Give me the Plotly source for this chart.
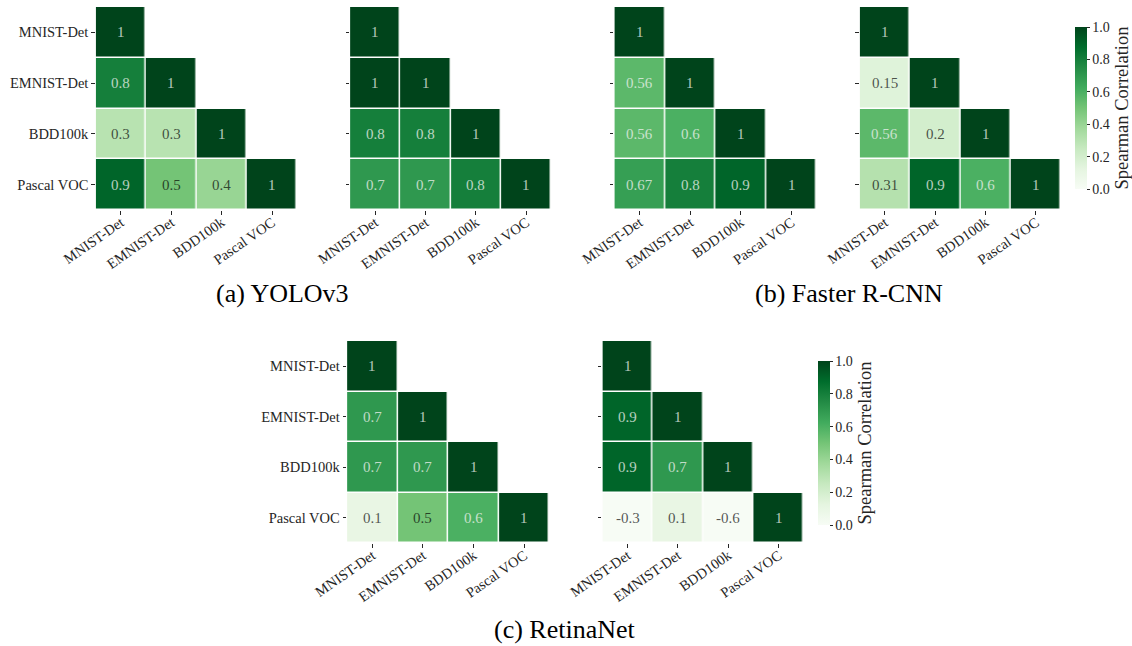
import plotly.graph_objects as go

# Dataset names shared by every matrix (rows and columns)
datasets = ["MNIST-Det", "EMNIST-Det", "BDD100k", "Pascal VOC"]

# Lower-triangular Spearman correlation matrices (row i holds columns 0..i)
yolo_a = [[1], [0.8, 1], [0.3, 0.3, 1], [0.9, 0.5, 0.4, 1]]
yolo_b = [[1], [1, 1], [0.8, 0.8, 1], [0.7, 0.7, 0.8, 1]]
frcnn_a = [[1], [0.56, 1], [0.56, 0.6, 1], [0.67, 0.8, 0.9, 1]]
frcnn_b = [[1], [0.15, 1], [0.56, 0.2, 1], [0.31, 0.9, 0.6, 1]]
retina_a = [[1], [0.7, 1], [0.7, 0.7, 1], [0.1, 0.5, 0.6, 1]]
retina_b = [[1], [0.9, 1], [0.9, 0.7, 1], [-0.3, 0.1, -0.6, 1]]

captions = ["(a) YOLOv3", "(b) Faster R-CNN", "(c) RetinaNet"]
colorbar_title = "Spearman Correlation"

W, H = 1132, 646
FONT = "Liberation Serif"
INK = "#262626"

greens = ["#f7fcf5", "#e5f5e0", "#c7e9c0", "#a1d99b", "#74c476",
          "#41ab5d", "#238b45", "#006d2c", "#00441b"]
colorscale = [[i / 8, c] for i, c in enumerate(greens)]


def hex_rgb(h):
    h = h.lstrip("#")
    return [int(h[k:k + 2], 16) / 255 for k in (0, 2, 4)]


def cmap(v):
    v = min(max(v, 0.0), 1.0)
    pos = v * 8
    i = min(int(pos), 7)
    t = pos - i
    a, b = hex_rgb(greens[i]), hex_rgb(greens[i + 1])
    return [a[k] + (b[k] - a[k]) * t for k in range(3)]


def luminance(rgb):
    lin = [c / 12.92 if c <= 0.03928 else ((c + 0.055) / 1.055) ** 2.4 for c in rgb]
    return 0.2126 * lin[0] + 0.7152 * lin[1] + 0.0722 * lin[2]


def full_matrix(tri):
    n = len(tri)
    return [[tri[i][j] if j <= i else None for j in range(n)] for i in range(n)]


# Panel pixel boxes: (left, right, top, bottom)
panels = [
    (yolo_a, (96, 298, 7, 210), True, "coloraxis"),
    (yolo_b, (351, 553, 7, 210), False, "coloraxis"),
    (frcnn_a, (616, 819, 7, 210), False, "coloraxis"),
    (frcnn_b, (862, 1064, 7, 210), False, "coloraxis"),
    (retina_a, (348, 551, 341, 543), True, "coloraxis2"),
    (retina_b, (604, 806, 341, 543), False, "coloraxis2"),
]

fig = go.Figure()
annotations = []
idx = list(range(len(datasets)))

for n, (tri, (l, r, t, b), show_y, cax) in enumerate(panels, start=1):
    z = full_matrix(tri)
    xs = "x" if n == 1 else f"x{n}"
    ys = "y" if n == 1 else f"y{n}"
    fig.add_trace(go.Heatmap(
        z=z, x=idx, y=idx, coloraxis=cax, xgap=1.5, ygap=1.5,
        xaxis=xs, yaxis=ys, hoverongaps=False,
    ))
    ax_x = dict(
        domain=[l / W, r / W], anchor=ys, range=[-0.5, 3.5],
        tickmode="array", tickvals=idx, ticktext=datasets, tickangle=-35,
        ticks="outside", ticklen=3.5, tickwidth=1, tickcolor=INK,
        ticklabelstandoff=-6,
        tickfont=dict(family=FONT, size=14.5, color=INK),
        showgrid=False, zeroline=False, showline=False, automargin=False,
    )
    ax_y = dict(
        domain=[1 - b / H, 1 - t / H], anchor=xs, range=[3.5, -0.5],
        tickmode="array", tickvals=idx, ticktext=datasets,
        showticklabels=show_y,
        ticks="outside", ticklen=3.5, tickwidth=1, tickcolor=INK,
        tickfont=dict(family=FONT, size=14.5, color=INK),
        showgrid=False, zeroline=False, showline=False, automargin=False,
    )
    fig.layout["xaxis" if n == 1 else f"xaxis{n}"] = ax_x
    fig.layout["yaxis" if n == 1 else f"yaxis{n}"] = ax_y

    for i, row in enumerate(tri):
        for j, v in enumerate(row):
            dark_cell = luminance(cmap(v)) <= 0.408
            color = "rgba(235,240,235,0.78)" if dark_cell else "rgba(0,0,0,0.68)"
            annotations.append(dict(
                x=j, y=i, xref=xs, yref=ys, text=f"{v:g}", showarrow=False,
                font=dict(family=FONT, size=15, color=color),
            ))

# Sub-figure captions
for text, cx, cy in zip(captions, [283, 851, 566], [294, 294, 629]):
    annotations.append(dict(
        x=cx / W, y=1 - cy / H, xref="paper", yref="paper", text=text,
        showarrow=False, xanchor="center", yanchor="middle",
        font=dict(family=FONT, size=26, color="black"),
    ))


def colorbar(x_px, top_px, bottom_px):
    return dict(
        x=x_px / W, xanchor="left", xpad=0,
        y=1 - (top_px + bottom_px) / 2 / H, yanchor="middle", ypad=0,
        len=bottom_px - top_px, lenmode="pixels", thickness=12,
        outlinewidth=0, ticks="outside", ticklen=3, tickwidth=1,
        tickcolor=INK, tickvals=[0, 0.2, 0.4, 0.6, 0.8, 1.0],
        tickformat=".1f", tickfont=dict(family=FONT, size=14, color=INK),
        title=dict(text=colorbar_title, side="right",
                   font=dict(family=FONT, size=18.5, color=INK)),
    )


fig.update_layout(
    width=W, height=H, margin=dict(l=0, r=0, t=0, b=0),
    paper_bgcolor="white", plot_bgcolor="white", showlegend=False,
    coloraxis=dict(colorscale=colorscale, cmin=0, cmax=1,
                   colorbar=colorbar(1078, 27, 189)),
    coloraxis2=dict(colorscale=colorscale, cmin=0, cmax=1,
                    colorbar=colorbar(820, 361, 525)),
    annotations=annotations,
)

fig.write_html("out.html")
